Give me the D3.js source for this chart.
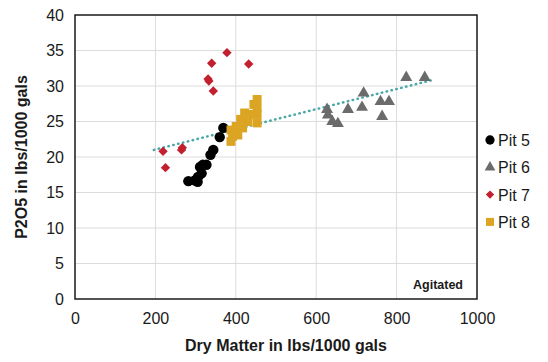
<!DOCTYPE html>
<html>
<head>
<meta charset="utf-8">
<script src="https://cdn.jsdelivr.net/npm/d3@7"></script>
<style>
  body { margin: 0; background: #fff; }
  text { font-family: "Liberation Sans", Arial, sans-serif; }
</style>
</head>
<body>
<div id="chart"></div>
<script>
// data
let pit5 = [[282,16.6],[298,16.7],[305,16.5],[306,17.2],[311,18.6],[315,17.7],[318,18.9],[327,18.9],[337,20.3],[344,21.0],[360,22.8],[369,24.1]];
let pit6 = [[627,26.7],[629,25.9],[640,25.0],[654,24.7],[679,26.7],[714,27.0],[718,29.0],[760,27.8],[764,25.7],[781,27.8],[824,31.2],[870,31.2]];
let pit7 = [[219,20.8],[225,18.5],[265,21.0],[267,21.3],[331,31.0],[333,30.7],[340,33.2],[344,29.3],[378,34.7],[432,33.1]];
let pit8 = [[388,22.2],[388,23.8],[392,22.9],[401,24.3],[405,23.1],[412,25.3],[417,24.1],[422,26.2],[430,25.0],[434,26.0],[445,27.4],[453,28.1],[453,26.9],[453,26.0],[453,24.8]];
let trend = [[196,21.0],[886,30.8]];
let xTicks = [0, 200, 400, 600, 800, 1000];
let yTicks = [0, 5, 10, 15, 20, 25, 30, 35, 40];
let seriesNames = ["Pit 5", "Pit 6", "Pit 7", "Pit 8"];

let width = 548;
let height = 362;
let plot = { left: 75, right: 477, top: 15, bottom: 299 };

let svg = d3.select("#chart").append("svg")
    .attr("width", width)
    .attr("height", height);

let x = d3.scaleLinear().domain([0, 1000]).range([plot.left, plot.right]);
let y = d3.scaleLinear().domain([0, 40]).range([plot.bottom, plot.top]);

// grid
svg.append("g").selectAll("line").data(yTicks.slice(1, -1)).enter().append("line")
    .attr("x1", plot.left).attr("x2", plot.right)
    .attr("y1", d => y(d)).attr("y2", d => y(d))
    .attr("stroke", "#dcdcdc").attr("stroke-width", 1);
svg.append("g").selectAll("line").data(xTicks.slice(1, -1)).enter().append("line")
    .attr("y1", plot.top).attr("y2", plot.bottom)
    .attr("x1", d => x(d)).attr("x2", d => x(d))
    .attr("stroke", "#dcdcdc").attr("stroke-width", 1);

// axes
let xAxis = d3.axisBottom(x).tickValues(xTicks).tickFormat(d3.format("d")).tickSize(0).tickPadding(14);
let gx = svg.append("g").attr("transform", `translate(0, ${plot.bottom})`).call(xAxis);
let yAxis = d3.axisLeft(y).tickValues(yTicks).tickFormat(d3.format("d")).tickSize(0).tickPadding(11);
let gy = svg.append("g").attr("transform", `translate(${plot.left}, 0)`).call(yAxis);
[gx, gy].forEach(g => {
    g.select(".domain").remove();
    g.selectAll("text").attr("font-size", "16px").attr("fill", "#1a1a1a")
        .attr("font-family", "Liberation Sans, Arial, sans-serif");
});

// frame
svg.append("rect")
    .attr("x", plot.left).attr("y", plot.top)
    .attr("width", plot.right - plot.left).attr("height", plot.bottom - plot.top)
    .attr("fill", "none").attr("stroke", "#1a1a1a").attr("stroke-width", 1.5);

// trendline
svg.append("path")
    .attr("d", d3.line().x(d => x(d[0])).y(d => y(d[1]))(trend))
    .attr("fill", "none")
    .attr("stroke", "#4ba8a8")
    .attr("stroke-width", 2.5)
    .attr("stroke-linecap", "round")
    .attr("stroke-dasharray", "0.5,4.5");

// markers (diamond = square turned 45deg)
let markers = [
    { data: pit5, shape: d3.symbolCircle, size: 85, color: "#000000", rot: 0 },
    { data: pit6, shape: d3.symbolTriangle, size: 62, color: "#6b6b6b", rot: 0 },
    { data: pit7, shape: d3.symbolSquare, size: 44, color: "#c3202f", rot: 45 },
    { data: pit8, shape: d3.symbolSquare, size: 80, color: "#dba523", rot: 0 }
];
markers.forEach(m => {
    svg.append("g").selectAll("path").data(m.data).enter().append("path")
        .attr("transform", d => `translate(${x(d[0])}, ${y(d[1])}) rotate(${m.rot})`)
        .attr("d", d3.symbol().type(m.shape).size(m.size))
        .attr("fill", m.color);
});

// legend
let legend = svg.append("g");
seriesNames.forEach((name, i) => {
    let m = markers[i];
    let ly = 140 + i * 27.3;
    legend.append("path")
        .attr("transform", `translate(490, ${ly}) rotate(${m.rot})`)
        .attr("d", d3.symbol().type(m.shape).size(m.size * 0.8))
        .attr("fill", m.color);
    legend.append("text")
        .attr("x", 498).attr("y", ly + 6)
        .attr("font-size", "16px").attr("fill", "#1a1a1a")
        .text(name);
});

// labels
svg.append("text")
    .attr("x", 463).attr("y", 289)
    .attr("text-anchor", "end")
    .attr("font-size", "12.5px").attr("font-weight", "bold").attr("fill", "#1a1a1a")
    .text("Agitated");

svg.append("text")
    .attr("x", (plot.left + plot.right) / 2 + 10).attr("y", 351)
    .attr("text-anchor", "middle")
    .attr("font-size", "16px").attr("font-weight", "bold").attr("fill", "#1a1a1a")
    .text("Dry Matter in lbs/1000 gals");

svg.append("text")
    .attr("transform", `translate(27, ${(plot.top + plot.bottom) / 2}) rotate(-90)`)
    .attr("text-anchor", "middle")
    .attr("font-size", "16px").attr("font-weight", "bold").attr("fill", "#1a1a1a")
    .text("P2O5 in lbs/1000 gals");
</script>
</body>
</html>
